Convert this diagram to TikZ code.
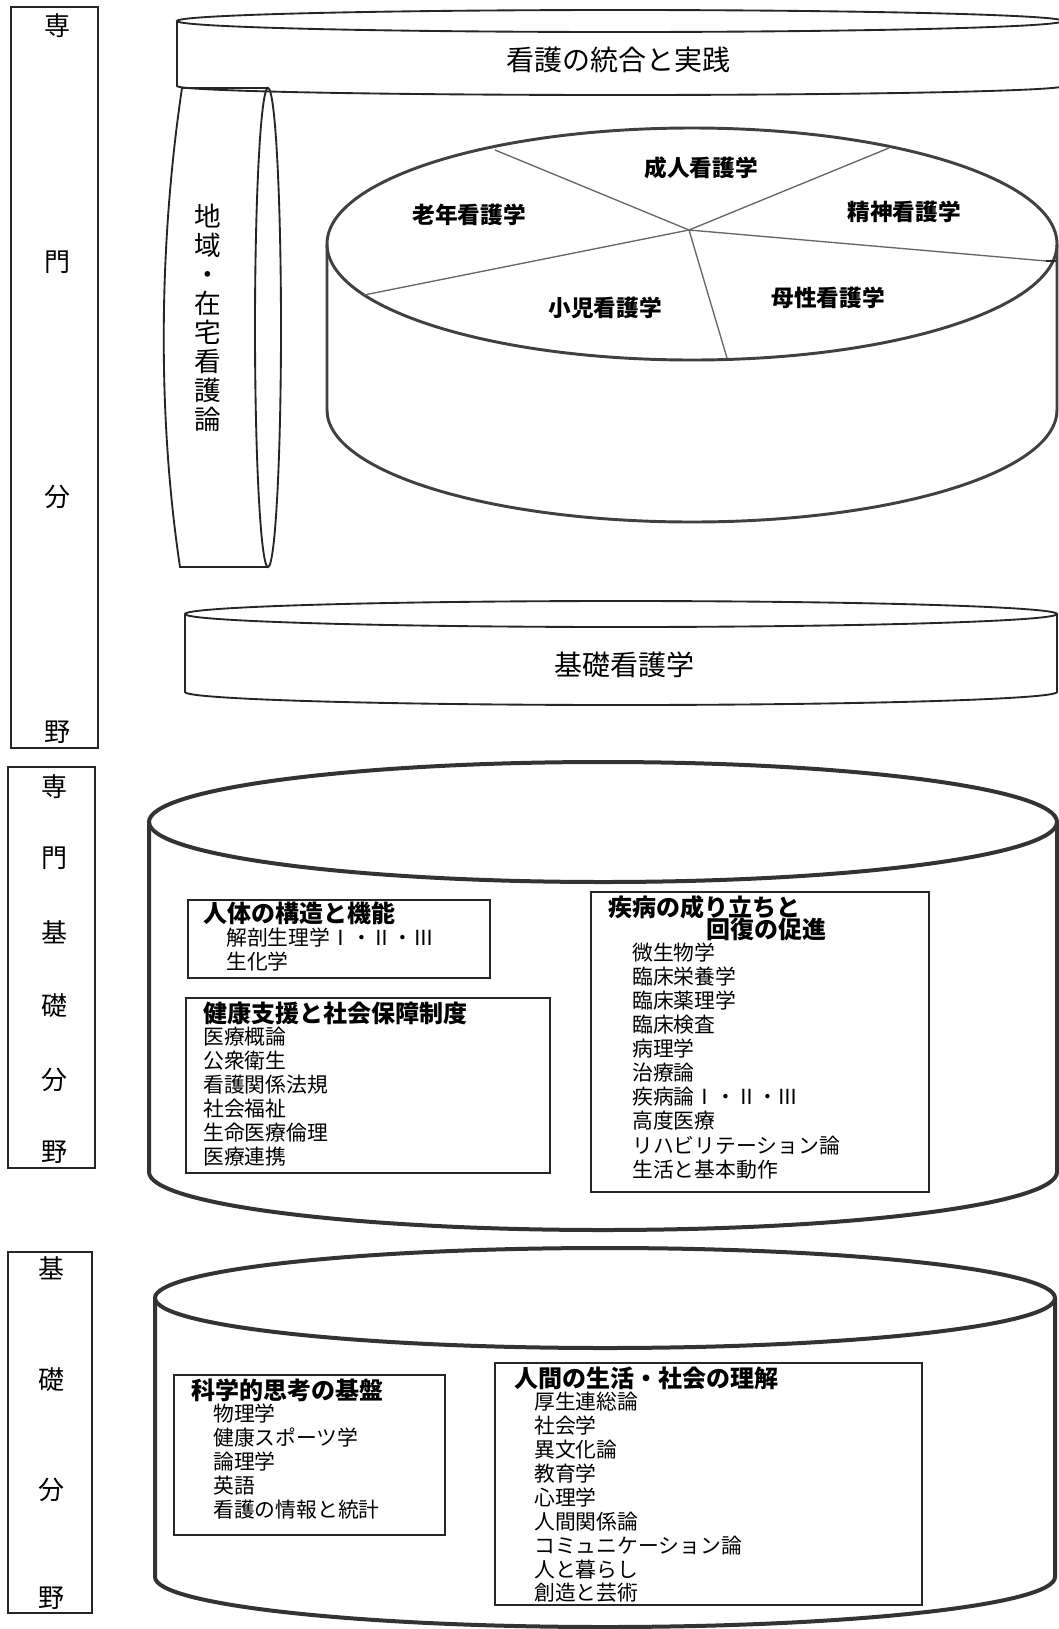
\documentclass[tikz,border=0pt]{standalone}
\usepackage{fontspec}
\setmainfont{Noto Sans CJK JP}
\usetikzlibrary{fit}
\begin{document}
\begin{tikzpicture}[x=0.75pt,y=-0.75pt,
  lbox/.style={draw=black!85, line width=1.3pt, inner sep=0pt},
  tbox/.style={draw=black!85, line width=1.7pt, inner sep=0pt},
  lch/.style={inner sep=0pt, font=\fontsize{19.5}{20}\selectfont},
  cylthin/.style={draw=black!85, line width=1.4pt},
  cylthick/.style={draw=black!80, line width=3pt},
  pieedge/.style={draw=black!75, line width=2.2pt},
  pieline/.style={draw=black!60, line width=1pt},
  bigtxt/.style={inner sep=0pt, font=\fontsize{21}{22}\selectfont},
  pietxt/.style={inner sep=0pt, font=\bfseries\fontsize{17}{18}\selectfont},
  ttl/.style={anchor=west, inner sep=0pt, font=\bfseries\fontsize{18}{19}\selectfont},
  itm/.style={anchor=west, inner sep=0pt, font=\fontsize{15.6}{17}\selectfont}
]
\useasboundingbox (0,0) rectangle (1059,1629);
\fill[white] (0,0) rectangle (1059,1629);

% ---------- left label boxes ----------
\node[lbox, fit={(11,7) (98,748)}] (L1) {};
\node[lch] (l1a) at (57,26) {専};
\node[lch] (l1b) at (58,262) {門};
\node[lch] (l1c) at (58,497) {分};
\node[lch] (l1d) at (57,732) {野};

\node[lbox, fit={(8,767) (95,1168)}] (L2) {};
\node[lch] (l2a) at (54,787) {専};
\node[lch] (l2b) at (54,858) {門};
\node[lch] (l2c) at (54,932) {基};
\node[lch] (l2d) at (54,1006) {礎};
\node[lch] (l2e) at (54,1080) {分};
\node[lch] (l2f) at (54,1152) {野};

\node[lbox, fit={(8,1252) (92,1613)}] (L3) {};
\node[lch] (l3a) at (51,1268) {基};
\node[lch] (l3b) at (51,1380) {礎};
\node[lch] (l3c) at (51,1490) {分};
\node[lch] (l3d) at (51,1598) {野};

% ---------- top flat cylinder ----------
\draw[cylthin] (620,21) ellipse [x radius=443, y radius=11];
\draw[cylthin] (177,21) -- (177,86) arc[start angle=180, end angle=0, x radius=443, y radius=9] -- (1063,21);
\node[bigtxt] (t1) at (618,60) {看護の統合と実践};

% ---------- vertical cylinder ----------
\draw[cylthin] (182,88) .. controls (158,250) and (158,420) .. (180,567) -- (268,567);
\draw[cylthin] (182,88) -- (268,88);
\draw[cylthin] (268,327.5) ellipse [x radius=13, y radius=239.5];
\node[inner sep=0pt, align=center, font=\fontsize{20}{21.75}\selectfont] (t2) at (208,318)
  {地\\域\\・\\在\\宅\\看\\護\\論};

% ---------- pie cylinder ----------
\draw[pieedge] (692,244) ellipse [x radius=365, y radius=116];
\draw[pieedge] (327,244) -- (327,410) arc[start angle=180, end angle=0, x radius=365, y radius=112] -- (1057,244);
\coordinate (pc) at (689,230);
\coordinate (p1) at (495,150);
\coordinate (p2) at (889,148);
\coordinate (p3) at (1046,261);
\coordinate (p4) at (364,295);
\coordinate (p5) at (727,358);
\draw[pieline] (pc) -- (p1);
\draw[pieline] (pc) -- (p2);
\draw[pieline] (pc) -- (p3);
\draw[pieline] (pc) -- (p4);
\draw[pieline] (pc) -- (p5);
\coordinate (tk) at (1056,261);
\draw[line width=1.8pt, black!85] (p3) -- (tk);
\node[pietxt] (s1) at (701,168) {成人看護学};
\node[pietxt] (s2) at (904,212) {精神看護学};
\node[pietxt] (s3) at (469,215) {老年看護学};
\node[pietxt] (s4) at (605,308) {小児看護学};
\node[pietxt] (s5) at (828,298) {母性看護学};

% ---------- 基礎看護学 cylinder ----------
\draw[cylthin] (621,614) ellipse [x radius=436, y radius=13];
\draw[cylthin] (185,614) -- (185,692) arc[start angle=180, end angle=0, x radius=436, y radius=13] -- (1057,614);
\node[bigtxt] (t3) at (624,665) {基礎看護学};

% ---------- 専門基礎分野 cylinder ----------
\draw[cylthick] (603,822) ellipse [x radius=454, y radius=60];
\draw[cylthick] (149,822) -- (149,1172) arc[start angle=180, end angle=0, x radius=454, y radius=58] -- (1057,822);

\node[tbox, fit={(188,900) (490,978)}] (bx1) {};
\node[ttl] (bx1t) at (203,913) {人体の構造と機能};
\node[itm] (bx1a) at (226,938) {解剖生理学Ⅰ・Ⅱ・Ⅲ};
\node[itm] (bx1b) at (226,962) {生化学};

\node[tbox, fit={(186,998) (550,1173)}] (bx2) {};
\node[ttl] (bx2t) at (203,1013) {健康支援と社会保障制度};
\node[itm] (bx2a) at (203,1037) {医療概論};
\node[itm] (bx2b) at (203,1061) {公衆衛生};
\node[itm] (bx2c) at (203,1085) {看護関係法規};
\node[itm] (bx2d) at (203,1109) {社会福祉};
\node[itm] (bx2e) at (203,1133) {生命医療倫理};
\node[itm] (bx2f) at (203,1157) {医療連携};

\node[tbox, fit={(591,892) (929,1192)}] (bx3) {};
\node[ttl] (bx3t) at (608,907) {疾病の成り立ちと};
\node[ttl] (bx3u) at (706,929) {回復の促進};
\node[itm] (bx3a) at (632,953) {微生物学};
\node[itm] (bx3b) at (632,977) {臨床栄養学};
\node[itm] (bx3c) at (632,1001) {臨床薬理学};
\node[itm] (bx3d) at (632,1025) {臨床検査};
\node[itm] (bx3e) at (632,1049) {病理学};
\node[itm] (bx3f) at (632,1073) {治療論};
\node[itm] (bx3g) at (632,1097) {疾病論Ⅰ・Ⅱ・Ⅲ};
\node[itm] (bx3h) at (632,1121) {高度医療};
\node[itm] (bx3i) at (632,1146) {リハビリテーション論};
\node[itm] (bx3j) at (632,1170) {生活と基本動作};

% ---------- 基礎分野 cylinder ----------
\draw[cylthick] (605,1298) ellipse [x radius=450, y radius=50];
\draw[cylthick] (155,1298) -- (155,1577) arc[start angle=180, end angle=0, x radius=450, y radius=50] -- (1055,1298);

\node[tbox, fit={(174,1375) (445,1535)}] (bx4) {};
\node[ttl] (bx4t) at (191,1390) {科学的思考の基盤};
\node[itm] (bx4a) at (213,1414) {物理学};
\node[itm] (bx4b) at (213,1438) {健康スポーツ学};
\node[itm] (bx4c) at (213,1462) {論理学};
\node[itm] (bx4d) at (213,1486) {英語};
\node[itm] (bx4e) at (213,1510) {看護の情報と統計};

\node[tbox, fit={(495,1363) (922,1605)}] (bx5) {};
\node[ttl] (bx5t) at (514,1378) {人間の生活・社会の理解};
\node[itm] (bx5a) at (534,1402) {厚生連総論};
\node[itm] (bx5b) at (534,1426) {社会学};
\node[itm] (bx5c) at (534,1450) {異文化論};
\node[itm] (bx5d) at (534,1474) {教育学};
\node[itm] (bx5e) at (534,1498) {心理学};
\node[itm] (bx5f) at (534,1522) {人間関係論};
\node[itm] (bx5g) at (534,1546) {コミュニケーション論};
\node[itm] (bx5h) at (534,1570) {人と暮らし};
\node[itm] (bx5i) at (534,1593) {創造と芸術};
\end{tikzpicture}
\end{document}
